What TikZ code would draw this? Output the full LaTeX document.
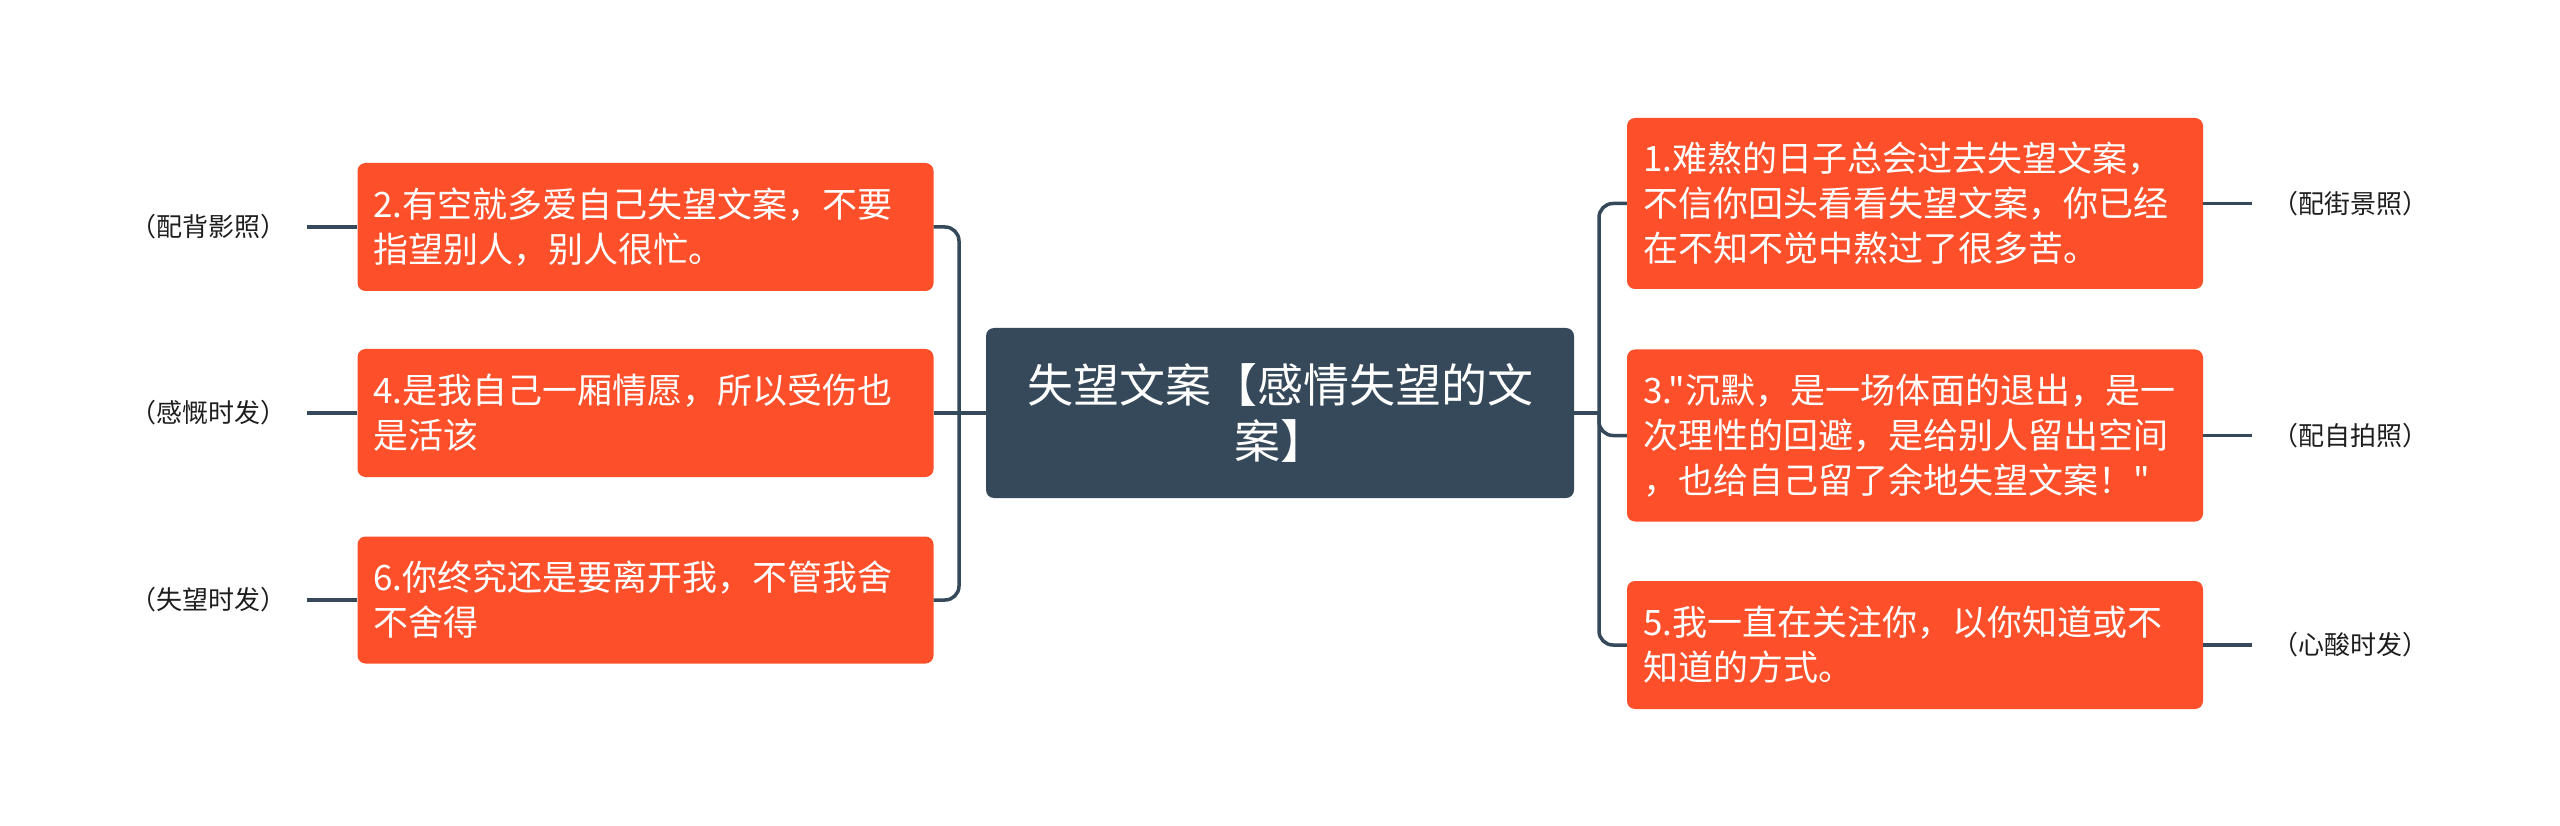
\documentclass[tikz,border=0pt]{standalone}
\usepackage{fontspec}
\setmainfont{Noto Sans CJK SC}
\newfontfamily\cjkplain{Noto Sans CJK SC}
\definecolor{leafc}{RGB}{253,80,42}
\definecolor{rootc}{RGB}{54,73,90}
\definecolor{linec}{RGB}{54,73,90}
\definecolor{labc}{RGB}{30,30,30}
\begin{document}
\begin{tikzpicture}[x=1pt,y=-1pt,
  leaf/.style={fill=leafc, rounded corners=8pt, text=white,
    font=\cjkplain\fontsize{35}{45}\selectfont, align=left, text width=544pt,
    inner xsep=16pt, inner ysep=0pt, anchor=center},
  root/.style={fill=rootc, rounded corners=8pt, text=white,
    font=\cjkplain\fontsize{46}{56}\selectfont, align=center, text width=556pt,
    inner xsep=16pt, inner ysep=0pt, minimum height=170pt, anchor=center},
  lab/.style={text=labc, font=\cjkplain\fontsize{26}{30}\selectfont, inner xsep=20pt, inner ysep=0pt},
  conn/.style={draw=linec, line width=3.5pt, rounded corners=14pt},
  tick/.style={draw=linec, line width=3.5pt}
]
\useasboundingbox (0,0) rectangle (2560,826);

\node[root] (c) at (1280,413) {失望文案【感情失望的文\\案】};

\node[leaf, minimum height=171pt] (n1) at (1915,203.5) {1.难熬的日子总会过去失望文案，\\不信你回头看看失望文案，你已经\\在不知不觉中熬过了很多苦。};
\node[leaf, minimum height=172pt] (n3) at (1915,435.5) {3."沉默，是一场体面的退出，是一\\次理性的回避，是给别人留出空间\\，也给自己留了余地失望文案！"};
\node[leaf, minimum height=128pt] (n5) at (1915,645) {5.我一直在关注你，以你知道或不\\知道的方式。};

\node[leaf, minimum height=128pt] (n2) at (645.5,227) {2.有空就多爱自己失望文案，不要\\指望别人，别人很忙。};
\node[leaf, minimum height=128pt] (n4) at (645.5,413) {4.是我自己一厢情愿，所以受伤也\\是活该};
\node[leaf, minimum height=127pt] (n6) at (645.5,600) {6.你终究还是要离开我，不管我舍\\不舍得};

\coordinate (busR) at (1599,413);
\coordinate (busL) at (959,413);

\draw[tick] (c.east) -- (busR);
\draw[conn] (n1.west) -| (busR);
\draw[conn] (n3.west) -| (busR);
\draw[conn] (n5.west) -| (busR);

\draw[tick] (n4.east) -- (c.west);
\draw[conn] (n2.east) -| (busL);
\draw[conn] (n6.east) -| (busL);

\node[lab, anchor=west] (l1) at (2252,203.5) {（配街景照）};
\node[lab, anchor=west] (l3) at (2252,435.5) {（配自拍照）};
\node[lab, anchor=west] (l5) at (2252,645) {（心酸时发）};
\node[lab, anchor=east] (l2) at (307,227) {（配背影照）};
\node[lab, anchor=east] (l4) at (307,413) {（感慨时发）};
\node[lab, anchor=east] (l6) at (307,600) {（失望时发）};

\draw[tick] (n1.east) -- (l1.west);
\draw[tick] (n3.east) -- (l3.west);
\draw[tick] (n5.east) -- (l5.west);
\draw[tick] (n2.west) -- (l2.east);
\draw[tick] (n4.west) -- (l4.east);
\draw[tick] (n6.west) -- (l6.east);
\end{tikzpicture}
\end{document}
